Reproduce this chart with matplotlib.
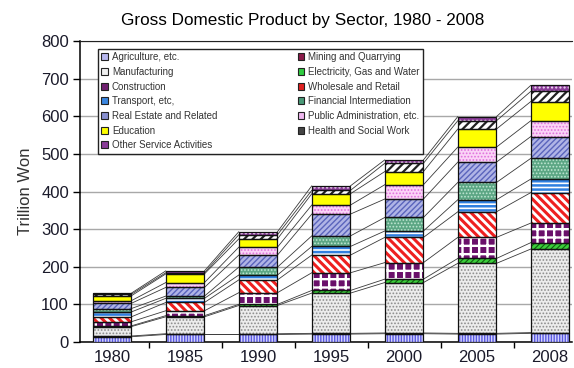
import numpy as np
import matplotlib
matplotlib.use("Agg")
import matplotlib.pyplot as plt
from matplotlib.patches import Patch

plt.rcParams['font.family'] = ['Liberation Sans', 'DejaVu Sans']

years = ['1980', '1985', '1990', '1995', '2000', '2005', '2008']

sectors = ['Agriculture, etc.', 'Mining and Quarrying', 'Manufacturing',
           'Electricity, Gas and Water', 'Construction', 'Wholesale and Retail',
           'Transport, etc,', 'Financial Intermediation', 'Real Estate and Related',
           'Public Administration, etc.', 'Education', 'Health and Social Work',
           'Other Service Activities']

# trillion won, per sector, per year
agriculture   = [14, 20, 20, 21, 22, 21, 23]
mining        = [2, 2, 2, 2, 2, 2, 2]
manufacturing = [25, 45, 75, 107, 134, 186, 222]
electricity   = [2, 3, 3, 7, 9, 13, 17]
construction  = [11, 13, 31, 47, 44, 56, 52]
wholesale     = [13, 22, 34, 47, 67, 68, 81]
transport     = [13, 11, 13, 23, 17, 32, 36]
financial     = [9, 6, 21, 28, 36, 46, 55]
real_estate   = [14, 23, 32, 58, 49, 54, 58]
public_admin  = [7, 13, 21, 24, 38, 40, 42]
education     = [13, 23, 22, 30, 35, 48, 51]
health        = [4, 3, 11, 9, 22, 22, 27]
other         = [3, 5, 8, 12, 9, 11, 16]

series = [agriculture, mining, manufacturing, electricity, construction, wholesale,
          transport, financial, real_estate, public_admin, education, health, other]

# (face, hatch, hatch colour, hatch width, legend colour)
styles = [
    ('#d4d4ff', '||||||', '#5a5ae0', 1.0, '#b8b8f0'),
    ('#7a1040', None, '#7a1040', 1.0, '#8a1a4a'),
    ('#ececec', '.....', '#8c8c8c', 0.8, '#f0f0f0'),
    ('#3ccf3c', '//////', '#106010', 0.8, '#2ecc40'),
    ('#6a106a', '++', 'white', 1.7, '#702070'),
    ('white', '\\\\\\\\', '#ee2020', 2.2, '#e02020'),
    ('#ffffff', '----', '#2f7fe0', 1.8, '#3a86e0'),
    ('#5ca684', '.....', '#bfe6d2', 0.8, '#4a9a78'),
    ('#b0b4e6', '//////', '#5a64bc', 1.0, '#8890d0'),
    ('#fad4f6', '.....', '#e070dc', 0.8, '#f0b8f0'),
    ('#ffff00', None, '#ffff00', 1.0, '#ffff00'),
    ('white', '////', '#222222', 1.6, '#444444'),
    ('#8a3c98', '....', '#f0d8f4', 1.0, '#8a3c98'),
]

fig = plt.figure(figsize=(5.74, 3.68), dpi=100)
ax = fig.add_axes([80 / 574, 26 / 368, 492 / 574, 301 / 368])

x = np.arange(len(years))
width = 0.53
bottom = np.zeros(len(years))
tops = []
for vals, (fc, hatch, hc, hw, _) in zip(series, styles):
    vals = np.array(vals, dtype=float)
    with plt.rc_context({'hatch.linewidth': hw}):
        ax.bar(x, vals, width, bottom=bottom, color=fc, hatch=hatch, edgecolor=hc,
               linewidth=0, zorder=3)
    ax.bar(x, vals, width, bottom=bottom, fill=False, edgecolor='#111111',
           linewidth=0.9, zorder=4)
    bottom = bottom + vals
    tops.append(bottom.copy())

# series lines joining segment tops between neighbouring bars
for top in tops:
    for j in range(len(years) - 1):
        ax.plot([x[j] + width / 2, x[j + 1] - width / 2], [top[j], top[j + 1]],
                color='#3a3a3a', linewidth=0.6, zorder=2)

ax.set_xlim(-0.44, 6.3)
ax.set_ylim(0, 800)
ax.set_yticks(range(0, 801, 100))
ax.yaxis.grid(True, color='#a8a8a8', linewidth=1.0, zorder=0)
ax.set_axisbelow(True)
ax.set_xticks(x)
ax.set_xticklabels(years)
ax.set_xticks(x[:-1] + 0.5, minor=True)
ax.tick_params(axis='x', which='major', length=0, pad=6, labelsize=12, labelcolor='#1a1a2a')
ax.tick_params(axis='x', which='minor', length=4, width=1, direction='out')
ax.tick_params(axis='y', length=5, width=1, direction='out', pad=3, labelsize=12,
               labelcolor='#1a1a2a')

ax.spines['right'].set_visible(False)
ax.spines['top'].set_color('#222222')
ax.spines['left'].set_linewidth(1.1)
ax.spines['bottom'].set_linewidth(1.1)

ax.set_ylabel('Trillion Won', fontsize=12, color='#333333', labelpad=6)
fig.text(303 / 574, 1 - 20 / 368, 'Gross Domestic Product by Sector, 1980 - 2008',
         ha='center', va='center', fontsize=12.3)

handles = [Patch(facecolor=st[4], edgecolor='#222222', linewidth=0.8) for st in styles]
order = [0, 2, 4, 6, 8, 10, 12, 1, 3, 5, 7, 9, 11]
leg = fig.legend([handles[i] for i in order], [sectors[i] for i in order],
                 loc='upper left', ncol=2, mode='expand',
                 bbox_to_anchor=(93 / 574, 1 - 44 / 368, 335 / 574, 0.0),
                 fontsize=7, handlelength=0.7, handleheight=0.7, handletextpad=0.4,
                 labelspacing=0.48, borderpad=0.35, fancybox=False,
                 frameon=True, edgecolor='#222222', framealpha=1)
leg.get_frame().set_linewidth(1.0)
for t in leg.get_texts():
    t.set_color('#333333')

fig.savefig('out.png', dpi=100)
